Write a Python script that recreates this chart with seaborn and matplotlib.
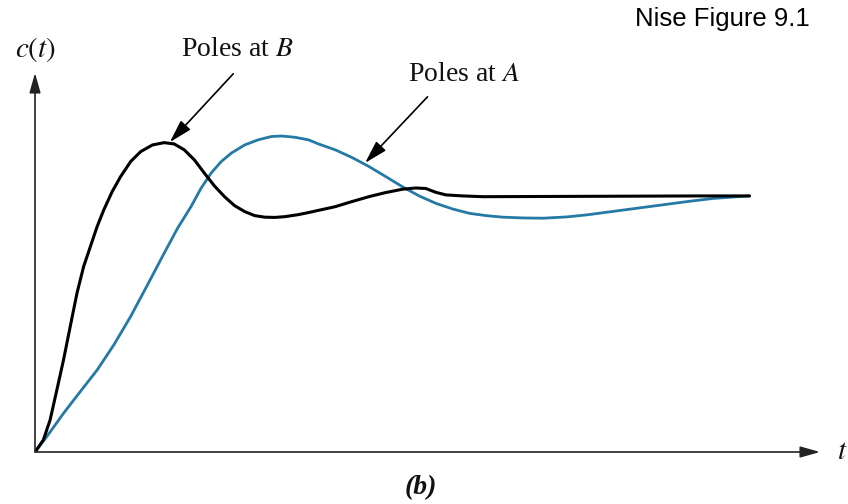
import numpy as np
import pandas as pd
import matplotlib
matplotlib.use("Agg")
import matplotlib.pyplot as plt
import seaborn as sns

# Step responses (t in arbitrary units, c(t) normalised to final value 1)
# Poles at B (black)
t_b = [0.0, 0.083, 0.15, 0.217, 0.283, 0.35, 0.417, 0.483, 0.55, 0.617, 0.683, 0.767,
       0.85, 0.95, 1.05, 1.167, 1.283, 1.383, 1.483, 1.583, 1.683, 1.783, 1.883, 1.983,
       2.083, 2.183, 2.283, 2.383, 2.483, 2.617, 2.717, 2.983, 3.15, 3.317, 3.483, 3.65,
       3.783, 3.883, 3.983, 4.083, 4.25, 4.45, 6.65, 7.10]
c_b = [0.0, 0.047, 0.125, 0.242, 0.359, 0.490, 0.620, 0.724, 0.802, 0.880, 0.945, 1.017,
       1.075, 1.134, 1.173, 1.199, 1.208, 1.203, 1.180, 1.141, 1.089, 1.039, 0.997, 0.962,
       0.939, 0.923, 0.917, 0.916, 0.919, 0.927, 0.935, 0.958, 0.978, 0.997, 1.013, 1.026,
       1.031, 1.029, 1.014, 1.004, 1.000, 0.997, 1.000, 1.000]

# Poles at A (blue)
t_a = [0.0, 0.117, 0.283, 0.45, 0.617, 0.783, 0.95, 1.117, 1.283, 1.417, 1.55, 1.65,
       1.75, 1.85, 1.95, 2.083, 2.217, 2.35, 2.45, 2.583, 2.717, 2.817, 2.983, 3.15,
       3.317, 3.483, 3.65, 3.817, 3.983, 4.15, 4.317, 4.483, 4.65, 4.85, 5.05, 5.283,
       5.483, 5.733, 5.983, 6.233, 6.483, 6.733, 6.983, 7.10]
c_a = [0.0, 0.060, 0.151, 0.236, 0.320, 0.418, 0.529, 0.652, 0.776, 0.874, 0.958, 1.030,
       1.089, 1.134, 1.167, 1.199, 1.219, 1.232, 1.234, 1.229, 1.219, 1.203, 1.180, 1.150,
       1.115, 1.076, 1.036, 1.000, 0.971, 0.949, 0.932, 0.923, 0.917, 0.914, 0.913, 0.918,
       0.926, 0.939, 0.952, 0.965, 0.978, 0.990, 0.997, 1.000]

df_b = pd.DataFrame({"t": t_b, "c": c_b})
df_a = pd.DataFrame({"t": t_a, "c": c_a})

sns.set_theme(style="white")
plt.rcParams["font.family"] = ["Liberation Serif", "DejaVu Serif"]
plt.rcParams["mathtext.fontset"] = "stix"

W, H = 848, 504
fig = plt.figure(figsize=(W / 100, H / 100), dpi=100)
ax = fig.add_axes([35 / W, 52 / H, 785 / W, 379 / H])

blue = "#2479a5"
sns.lineplot(data=df_a, x="t", y="c", ax=ax, color=blue, linewidth=2.0, estimator=None, sort=False)
sns.lineplot(data=df_b, x="t", y="c", ax=ax, color="black", linewidth=2.2, estimator=None, sort=False)

ax.set_xlim(0, 7.8)
ax.set_ylim(0, 1.48)
ax.set_axis_off()

# axes with long narrow arrow heads
axis_arrow = dict(arrowstyle="-|>,head_length=0.6,head_width=0.17", color="#222222", lw=1.2,
                  mutation_scale=20, shrinkA=0, shrinkB=0)
ax.annotate("", xy=(7.8, 0), xytext=(0, 0), arrowprops=axis_arrow, annotation_clip=False)
ax.annotate("", xy=(0, 1.48), xytext=(0, 0), arrowprops=axis_arrow, annotation_clip=False)

# pointer arrows
ptr = dict(arrowstyle="-|>,head_length=0.7,head_width=0.2", color="black", lw=1.2,
           mutation_scale=20, shrinkA=0, shrinkB=0)
ax.annotate("", xy=(1.34, 1.21), xytext=(1.97, 1.477), arrowprops=ptr, annotation_clip=False)
ax.annotate("", xy=(3.28, 1.129), xytext=(3.90, 1.387), arrowprops=ptr, annotation_clip=False)

fs = 20
ax.text(2.01, 1.57, r"Poles at $B$", fontsize=fs, ha="center", va="center", color="#111111")
ax.text(4.26, 1.475, r"Poles at $A$", fontsize=fs, ha="center", va="center", color="#111111")
ax.text(0.0, 1.57, r"$c(t)$", fontsize=21, ha="center", va="center", color="#111111")
ax.text(8.02, 0.0, r"$t$", fontsize=21, ha="center", va="center", color="#111111")
ax.text(3.83, -0.14, "(b)", fontsize=20, ha="center", va="center",
        fontweight="bold", style="italic", color="#111111")

fig.text(810 / W, 1 - 19 / H, "Nise Figure 9.1", fontsize=18.5, ha="right", va="center",
         family=["Liberation Sans", "DejaVu Sans"], color="black")

fig.savefig("out.png", dpi=100)
